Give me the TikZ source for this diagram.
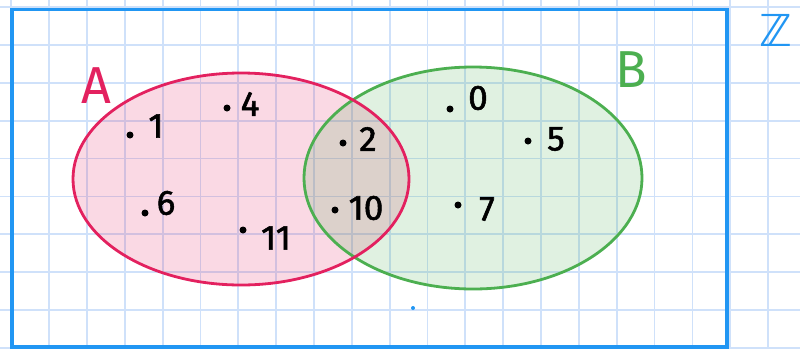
\documentclass[tikz,border=0pt]{standalone}
\usepackage{fontspec}
\setmainfont{Fira Sans}
\newfontfamily\numfont{Fira Sans}[FakeBold=1.6]
\newfontfamily\symfont{DejaVu Sans}
\definecolor{gridc}{HTML}{CFE1FA}
\definecolor{frameblue}{HTML}{2196F3}
\definecolor{pinkA}{HTML}{E3215F}
\definecolor{greenB}{HTML}{4CAF50}
\begin{document}
\begin{tikzpicture}[x=1pt,y=-1pt,
  gridline/.style={draw=gridc,line width=1.8pt},
  dotpt/.style={circle,fill=black,inner sep=0pt,minimum size=7pt},
  numlbl/.style={font=\numfont\fontsize{35}{35}\selectfont,inner sep=0pt,text=black},
  setlbl/.style={font=\fontsize{52}{52}\selectfont,inner sep=0pt}]
\useasboundingbox (0,0) rectangle (800,349);
\fill[white] (0,0) rectangle (800,349);
% grid
\foreach \k in {0,...,20} {\draw[gridline] ({11.3+37.84*\k},0) -- ({11.3+37.84*\k},349);}
\foreach \k in {0,...,9} {\draw[gridline] (0,{7.2+37.84*\k}) -- (800,{7.2+37.84*\k});}
% universe frame
\draw[frameblue,line width=3.5pt] (12,9.5) rectangle (727,347);
\node[text=frameblue,font=\symfont\fontsize{44}{44}\selectfont,inner sep=0pt] (Z) at (776,30) {ℤ};
% sets
\fill[pinkA,fill opacity=0.17] (241,179) ellipse [x radius=168,y radius=106];
\fill[greenB,fill opacity=0.17] (473,178) ellipse [x radius=169,y radius=111];
\draw[greenB,line width=2.8pt] (473,178) ellipse [x radius=169,y radius=111];
\draw[pinkA,line width=2.8pt] (241,179) ellipse [x radius=168,y radius=106];
\node[setlbl,text=pinkA] (A) at (96,86) {A};
\node[setlbl,text=greenB] (B) at (631,70) {B};
% elements
\node[dotpt] (d1) at (130,135) {};  \node[numlbl] (n1) at (156,126) {1};
\node[dotpt] (d4) at (227,108) {};  \node[numlbl] (n4) at (250,104) {4};
\node[dotpt] (d6) at (145,213) {};  \node[numlbl] (n6) at (166,203) {6};
\node[dotpt] (d11) at (243,230) {}; \node[numlbl] (n11) at (276,238) {11};
\node[dotpt] (d2) at (343,143) {};  \node[numlbl] (n2) at (368,139) {2};
\node[dotpt] (d10) at (335,210) {}; \node[numlbl] (n10) at (366,208) {10};
\node[dotpt] (d0) at (450,109) {};  \node[numlbl] (n0) at (478,98) {0};
\node[dotpt] (d5) at (528,141) {};  \node[numlbl] (n5) at (556,139) {5};
\node[dotpt] (d7) at (458,205) {};  \node[numlbl] (n7) at (487,209) {7};
\node[circle,fill=frameblue,inner sep=0pt,minimum size=4pt] (bd) at (413,308) {};
\end{tikzpicture}
\end{document}
